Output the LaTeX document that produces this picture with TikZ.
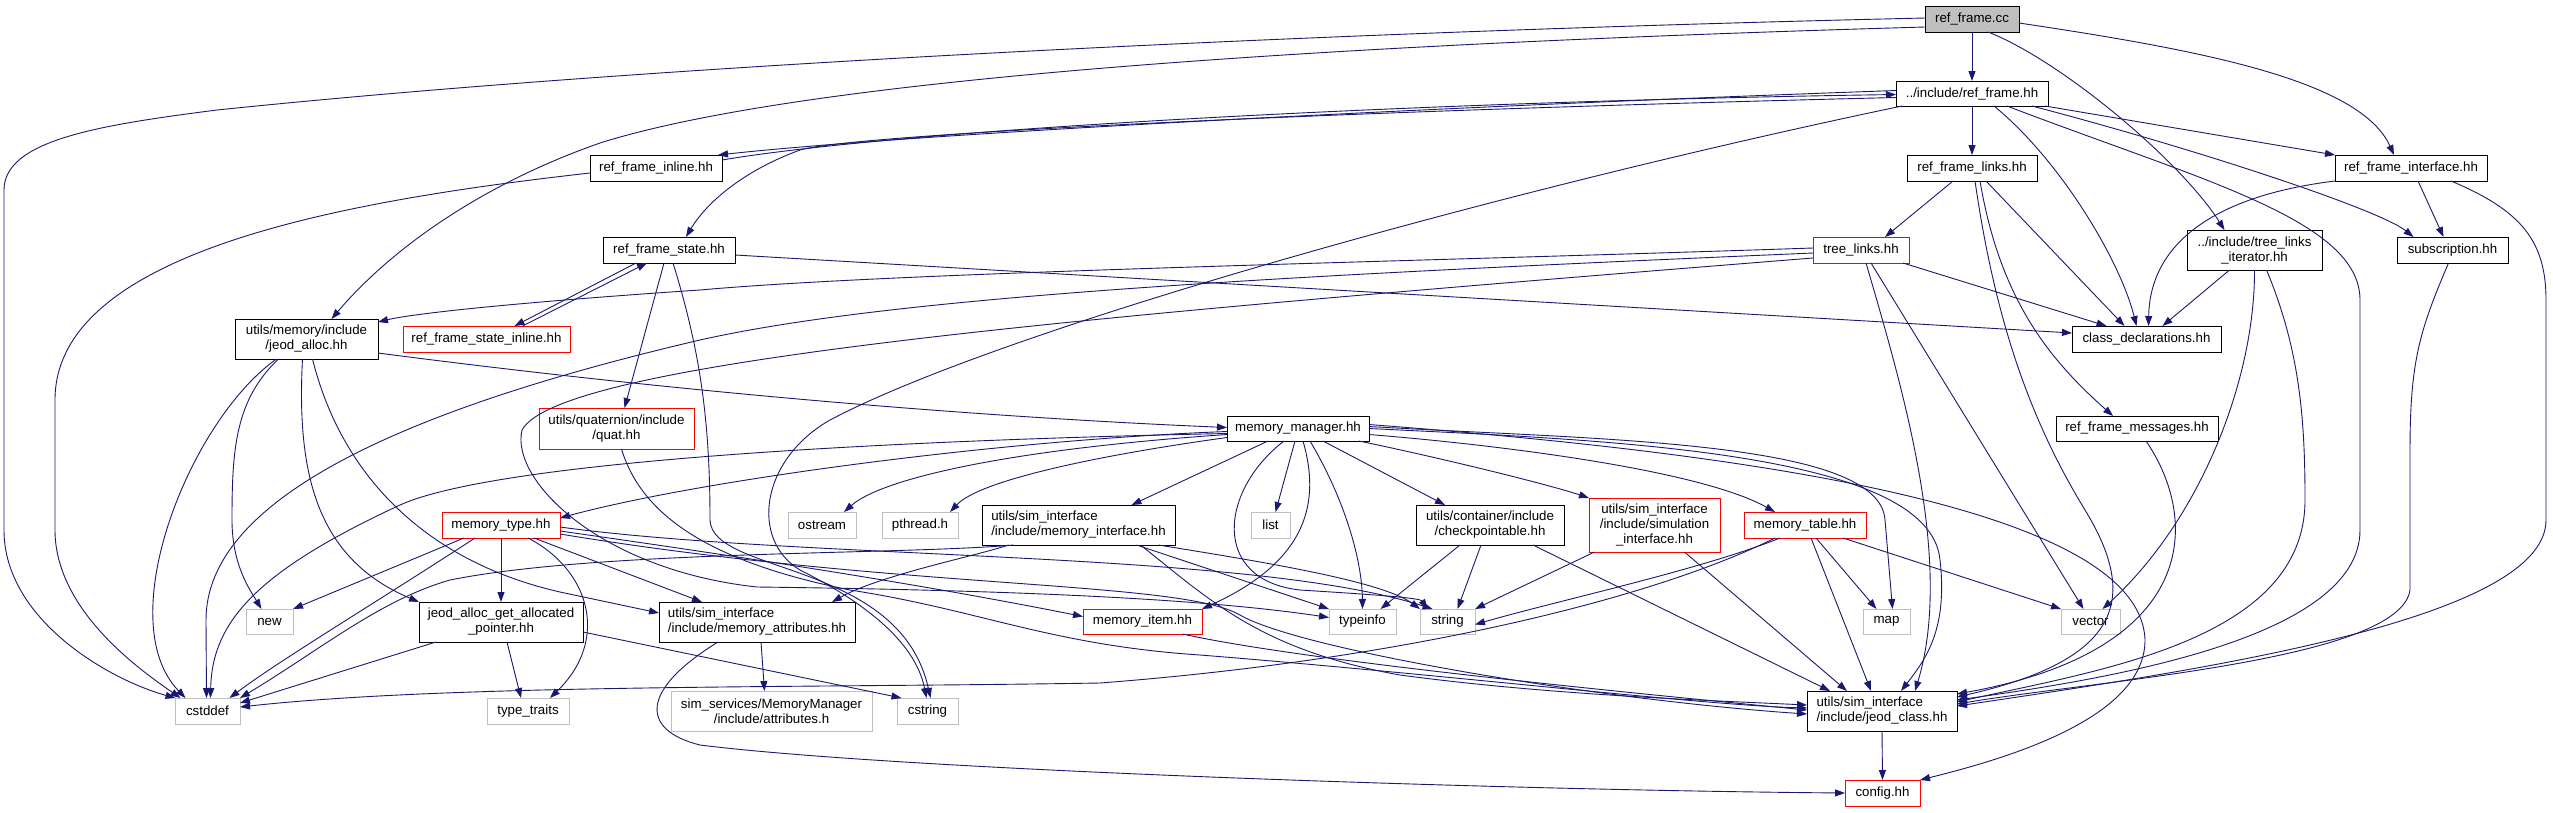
\documentclass[tikz,border=0pt]{standalone}
\usepackage{fontspec}
\setmainfont{Liberation Sans}
\usepackage{tikz}
\usetikzlibrary{arrows.meta}
\definecolor{edgeblue}{HTML}{191970}
\definecolor{sysgray}{HTML}{BFBFBF}
\definecolor{truncred}{HTML}{FF0000}

\begin{document}
\begin{tikzpicture}[x=1pt, y=-1pt,
    every node/.style={font=\fontsize{13.3}{15}\selectfont, inner sep=0pt, outer sep=0pt},
    sz/.style 2 args={minimum width=#1, minimum height=#2},
    hdr/.style={draw=black, line width=1pt, fill=white},
    sysh/.style={draw=sysgray, line width=1pt, fill=white},
    trunc/.style={draw=truncred, line width=1pt, fill=white},
    srcf/.style={draw=black, line width=1pt, fill=sysgray},
    dep/.style={draw=edgeblue, line width=0.9pt, -{Triangle[length=10pt,width=7pt]}}]
    \fill[white] (0,0) rectangle (2553,812);
    \useasboundingbox (0,0) rectangle (2553,812);

    \node[srcf, sz={94}{26}] (rfcc) at (1972,19) {ref\_frame.cc};
    \node[hdr, sz={152}{25}] (rfhh) at (1972,93.5) {../include/ref\_frame.hh};
    \node[hdr, sz={132}{26}] (rfinl) at (656,168) {ref\_frame\_inline.hh};
    \node[hdr, sz={132}{26}] (rfstate) at (669,250) {ref\_frame\_state.hh};
    \node[hdr, sz={130}{26}] (rflinks) at (1972,168) {ref\_frame\_links.hh};
    \node[hdr, sz={152}{26}] (rfiface) at (2411,168) {ref\_frame\_interface.hh};
    \node[trunc, sz={96}{26}] (treelinks) at (1861,250) {tree\_links.hh};
    \node[hdr, sz={135}{40}, align=center] (tliter) at (2254.5,250) {../include/tree\_links\\\_iterator.hh};
    \node[hdr, sz={111}{26}] (subscr) at (2452.5,250) {subscription.hh};
    \node[hdr, sz={143}{40}, align=center] (jalloc) at (306.5,339) {utils/memory/include\\/jeod\_alloc.hh};
    \node[trunc, sz={167}{26}] (rfsinl) at (486.5,339) {ref\_frame\_state\_inline.hh};
    \node[hdr, sz={149}{26}] (classdecl) at (2146.5,339) {class\_declarations.hh};
    \node[trunc, sz={155}{41}, align=center] (quat) at (616.5,428.5) {utils/quaternion/include\\/quat.hh};
    \node[hdr, sz={142}{25}] (memmgr) at (1298,428.5) {memory\_manager.hh};
    \node[hdr, sz={162}{25}] (rfmsg) at (2137,428.5) {ref\_frame\_messages.hh};
    \node[trunc, sz={118}{26}] (memtype) at (501,525) {memory\_type.hh};
    \node[sysh, sz={68}{26}] (ostream) at (822,525) {ostream};
    \node[sysh, sz={76}{26}] (pthread) at (920,525) {pthread.h};
    \node[hdr, sz={193}{40}, align=left] (memiface) at (1078.5,525) {utils/sim\_interface\\/include/memory\_interface.hh};
    \node[sysh, sz={39}{26}] (list) at (1270.5,525) {list};
    \node[hdr, sz={148}{40}, align=center] (ckpt) at (1490,525) {utils/container/include\\/checkpointable.hh};
    \node[trunc, sz={131}{54}, align=center] (siminterface) at (1654.5,525) {utils/sim\_interface\\/include/simulation\\\_interface.hh};
    \node[trunc, sz={122}{26}] (memtable) at (1805,525) {memory\_table.hh};
    \node[sysh, sz={47}{25}] (new) at (269.5,621.5) {new};
    \node[hdr, sz={164}{40}, align=center] (jagap) at (501,622) {jeod\_alloc\_get\_allocated\\\_pointer.hh};
    \node[hdr, sz={196}{40}, align=left] (memattr) at (757,622) {utils/sim\_interface\\/include/memory\_attributes.hh};
    \node[trunc, sz={119}{25}] (memitem) at (1142.5,621.5) {memory\_item.hh};
    \node[sysh, sz={67}{25}] (typeinfo) at (1362.5,621.5) {typeinfo};
    \node[sysh, sz={55}{25}] (string) at (1447.5,621.5) {string};
    \node[sysh, sz={47}{25}] (map) at (1886.5,621.5) {map};
    \node[sysh, sz={59}{25}] (vector) at (2090.5,621.5) {vector};
    \node[sysh, sz={65}{26}] (cstddef) at (207.5,711) {cstddef};
    \node[sysh, sz={82}{26}] (typetraits) at (528,711) {type\_traits};
    \node[sysh, sz={201}{40}, align=center] (attrh) at (771.5,711) {sim\_services/MemoryManager\\/include/attributes.h};
    \node[sysh, sz={61}{26}] (cstring) at (927.5,711) {cstring};
    \node[hdr, sz={150}{40}, align=left] (jeodclass) at (1882,711) {utils/sim\_interface\\/include/jeod\_class.hh};
    \node[trunc, sz={75}{26}] (config) at (1882.5,793) {config.hh};

    \draw[dep] (rfcc.south) -- (rfhh.north);
    \draw[dep] ([xshift=16pt]rfcc.south) .. controls (2060,60) and (2180,160) .. ([xshift=-30pt]tliter.north);
    \draw[dep] ([yshift=-4pt]rfcc.east) .. controls (2200,50) and (2360,80) .. ([xshift=-17pt]rfiface.north);
    \draw[dep] ([yshift=1pt]rfcc.west) .. controls (1400,30) and (700,60) .. (217,110) .. controls (100,125) and (4,140) .. (4,190) -- (4,530) .. controls (4,620) and (110,680) .. ([xshift=-32pt]cstddef.north);
    \draw[dep] ([yshift=-8pt]rfcc.west) .. controls (1300,45) and (800,80) .. (600,143) .. controls (480,185) and (390,250) .. ([xshift=25pt]jalloc.north);

    \draw[dep] (rfhh.south) -- (rflinks.north);
    \draw[dep] ([yshift=3pt]rfhh.west) .. controls (1400,108) and (900,135) .. ([xshift=-4pt]rfinl.north east);
    \draw[dep] ([yshift=8pt]rfinl.east) .. controls (900,130) and (1400,102) .. ([yshift=-1pt]rfhh.west);
    \draw[dep] ([yshift=-4pt]rfhh.west) .. controls (1300,112) and (850,135) .. (800,150) .. controls (740,172) and (705,205) .. ([xshift=17pt]rfstate.north);
    \draw[dep] ([xshift=22pt]rfhh.south) .. controls (2060,160) and (2120,260) .. ([xshift=-10pt]classdecl.north);
    \draw[dep] ([xshift=35pt]rfhh.south) .. controls (2200,180) and (2360,220) .. (2360,300) -- (2360,530) .. controls (2360,640) and (2100,680) .. ([yshift=11pt]jeodclass.east);
    \draw[dep] ([xshift=60pt]rfhh.south) .. controls (2200,150) and (2380,210) .. ([xshift=-39pt]subscr.north);
    \draw[dep] ([xshift=73pt]rfhh.south) -- (rfiface.north west);
    \draw[dep] ([xshift=-70pt]rfhh.south) .. controls (1500,190) and (1000,330) .. (830,420) .. controls (760,460) and (750,540) .. (800,570) .. controls (860,600) and (915,640) .. ([xshift=-1pt]cstring.north);

    \draw[dep] ([yshift=-5pt]rfinl.west) .. controls (350,200) and (55,250) .. (55,400) -- (55,530) .. controls (55,610) and (140,670) .. ([xshift=-27pt]cstddef.north);

    \draw[dep] ([xshift=-33pt]rfstate.south) -- ([xshift=28pt]rfsinl.north);
    \draw[dep] ([xshift=36pt]rfsinl.north) -- ([xshift=-22pt]rfstate.south);
    \draw[dep] ([yshift=-5pt]rfstate.east) -- ([yshift=6pt]classdecl.west);
    \draw[dep] ([xshift=-5pt]rfstate.south) -- ([xshift=8pt]quat.north);
    \draw[dep] ([xshift=4pt]rfstate.south) .. controls (700,350) and (710,420) .. (710,520) .. controls (712,575) and (900,560) .. ([xshift=3pt]cstring.north);

    \draw[dep] ([yshift=2pt]treelinks.west) .. controls (1400,262) and (900,272) .. (700,290) .. controls (550,300) and (420,312) .. ([yshift=-3pt]jalloc.north east);
    \draw[dep] ([yshift=-3pt]treelinks.west) .. controls (1300,275) and (900,295) .. (700,340) .. controls (400,410) and (206,500) .. (206,620) -- ([xshift=-1pt]cstddef.north);
    \draw[dep] ([yshift=-8pt]treelinks.west) .. controls (1100,315) and (560,360) .. (522,430) .. controls (510,480) and (600,570) .. (757,587) .. controls (1000,590) and (1200,598) .. ([yshift=4pt]typeinfo.west);
    \draw[dep] ([xshift=42pt]treelinks.south) -- ([xshift=-40pt]classdecl.north);
    \draw[dep] ([xshift=5pt]treelinks.south) .. controls (1900,380) and (1955,560) .. ([xshift=33pt]jeodclass.north);
    \draw[dep] ([xshift=10pt]treelinks.south) -- ([xshift=-7pt]vector.north);

    \draw[dep] ([xshift=-19pt]rflinks.south) -- ([xshift=24pt]treelinks.north);
    \draw[dep] ([xshift=14pt]rflinks.south) -- ([xshift=-22pt]classdecl.north);
    \draw[dep] ([xshift=3pt]rflinks.south) .. controls (1995,320) and (2030,420) .. (2085,510) .. controls (2140,600) and (2120,660) .. ([yshift=14pt]jeodclass.east);
    \draw[dep] ([xshift=8pt]rflinks.south) .. controls (2000,300) and (2050,360) .. ([xshift=-24pt]rfmsg.north);

    \draw[dep] (rfiface.south west) .. controls (2220,195) and (2150,240) .. ([xshift=2pt]classdecl.north);
    \draw[dep] ([xshift=7pt]rfiface.south) -- ([xshift=-9pt]subscr.north);
    \draw[dep] ([xshift=40pt]rfiface.south) .. controls (2520,210) and (2546,240) .. (2546,300) -- (2546,520) .. controls (2546,620) and (2200,670) .. ([yshift=5pt]jeodclass.east);
    \draw[dep] ([xshift=-4pt]subscr.south) .. controls (2420,330) and (2410,360) .. (2410,450) -- (2410,590) .. controls (2400,660) and (2100,680) .. ([yshift=7pt]jeodclass.east);

    \draw[dep] ([xshift=-25pt]tliter.south) -- ([xshift=16pt]classdecl.north);
    \draw[dep] (tliter.south) .. controls (2255,380) and (2200,520) .. ([xshift=12pt]vector.north);
    \draw[dep] ([xshift=12pt]tliter.south) .. controls (2300,350) and (2305,420) .. (2305,500) .. controls (2305,640) and (2100,670) .. ([yshift=9pt]jeodclass.east);

    \draw[dep] ([xshift=9pt]rfmsg.south) .. controls (2200,520) and (2200,650) .. ([yshift=17pt]jeodclass.east);
    \draw[dep] (jeodclass.south) -- (config.north);

    \draw[dep] ([xshift=-30pt]jalloc.south) .. controls (190,420) and (110,620) .. ([xshift=-22pt]cstddef.north);
    \draw[dep] ([xshift=-28pt]jalloc.south) .. controls (235,400) and (232,450) .. (232,520) .. controls (232,565) and (250,590) .. ([xshift=-8pt]new.north);
    \draw[dep] ([xshift=-4pt]jalloc.south) .. controls (296,480) and (320,560) .. (jagap.north west);
    \draw[dep] ([xshift=6pt]jalloc.south) .. controls (340,470) and (420,560) .. (560,592) -- ([yshift=9pt]memattr.west);
    \draw[dep] ([yshift=-14pt]jalloc.east) .. controls (700,395) and (1000,418) .. ([yshift=1pt]memmgr.west);

    \draw[dep] ([yshift=-3pt]memmgr.west) .. controls (1000,440) and (700,480) .. ([yshift=7pt]memtype.east);
    \draw[dep] ([yshift=-6pt]memmgr.west) .. controls (1000,450) and (880,480) .. ([xshift=22pt]ostream.north);
    \draw[dep] ([yshift=-5pt]memmgr.west) .. controls (900,440) and (500,460) .. (400,505) .. controls (260,570) and (212,620) .. ([xshift=3pt]cstddef.north);
    \draw[dep] ([yshift=-9pt]memmgr.west) .. controls (1100,455) and (980,480) .. ([xshift=30pt]pthread.north);
    \draw[dep] ([xshift=-30pt]memmgr.south) -- ([xshift=53pt]memiface.north);
    \draw[dep] ([xshift=-14pt]memmgr.south) .. controls (1220,490) and (1210,580) .. (1300,590) .. controls (1380,595) and (1420,598) .. ([xshift=-20pt]string.north);
    \draw[dep] ([xshift=-3pt]memmgr.south) -- ([xshift=5pt]list.north);
    \draw[dep] ([xshift=5pt]memmgr.south) .. controls (1320,500) and (1310,560) .. (memitem.north east);
    \draw[dep] ([xshift=12pt]memmgr.south) .. controls (1345,500) and (1362,560) .. (typeinfo.north);
    \draw[dep] ([xshift=25pt]memmgr.south) -- ([xshift=-45pt]ckpt.north);
    \draw[dep] ([xshift=-10pt]memmgr.south east) .. controls (1450,460) and (1550,485) .. (siminterface.north west);
    \draw[dep] ([yshift=-6pt]memmgr.east) .. controls (1500,445) and (1700,470) .. ([xshift=-30pt]memtable.north);
    \draw[dep] ([yshift=2pt]memmgr.east) .. controls (1600,440) and (1880,440) .. (1885,520) -- ([xshift=6pt]map.north);
    \draw[dep] (memmgr.east) .. controls (1600,440) and (1930,450) .. (1940,560) .. controls (1948,630) and (1925,660) .. ([xshift=19pt]jeodclass.north);
    \draw[dep] ([yshift=4pt]memmgr.east) .. controls (1700,450) and (2140,500) .. (2145,640) .. controls (2145,720) and (2000,760) .. (config.north east);

    \draw[dep] ([xshift=-65pt]memiface.south) .. controls (900,555) and (600,550) .. (450,580) .. controls (380,600) and (320,650) .. (cstddef.north east);
    \draw[dep] ([xshift=-70pt]memiface.south) .. controls (980,555) and (880,575) .. ([xshift=75pt]memattr.north);
    \draw[dep] ([xshift=58pt]memiface.south) -- (typeinfo.north west);
    \draw[dep] ([xshift=80pt]memiface.south) .. controls (1250,560) and (1380,580) .. (string.north west);
    \draw[dep] ([xshift=62pt]memiface.south) .. controls (1210,600) and (1260,650) .. (1400,675) .. controls (1550,695) and (1700,700) .. ([yshift=6pt]jeodclass.west);

    \draw[dep] ([xshift=-30pt]ckpt.south) -- ([xshift=18pt]typeinfo.north);
    \draw[dep] ([xshift=-9pt]ckpt.south) -- ([xshift=10pt]string.north);
    \draw[dep] ([xshift=43pt]ckpt.south) -- ([xshift=-52pt]jeodclass.north);
    \draw[dep] ([xshift=-60pt]siminterface.south) -- (string.north east);
    \draw[dep] ([xshift=30pt]siminterface.south) -- ([xshift=-35pt]jeodclass.north);

    \draw[dep] ([xshift=-25pt]memtable.south) .. controls (1700,570) and (1560,600) .. ([yshift=-3pt]string.east);
    \draw[dep] ([xshift=-30pt]memtable.south) .. controls (1650,600) and (1400,660) .. (1100,683) .. controls (800,688) and (450,684) .. ([yshift=4pt]cstddef.east);
    \draw[dep] ([xshift=11pt]memtable.south) -- ([xshift=-10pt]map.north);
    \draw[dep] ([xshift=38pt]memtable.south) -- (vector.north west);
    \draw[dep] ([xshift=6pt]memtable.south) -- ([xshift=-11pt]jeodclass.north);

    \draw[dep] ([xshift=-37pt]memtype.south) -- (new.north east);
    \draw[dep] ([xshift=-26pt]memtype.south) .. controls (380,600) and (280,660) .. ([xshift=22pt]cstddef.north);
    \draw[dep] (memtype.south) -- (jagap.north);
    \draw[dep] ([xshift=27pt]memtype.south) .. controls (590,570) and (610,640) .. ([xshift=22pt]typetraits.north);
    \draw[dep] ([xshift=33pt]memtype.south) -- ([xshift=-55pt]memattr.north);
    \draw[dep] ([yshift=-6pt]memtype.east) .. controls (800,565) and (950,590) .. ([yshift=5pt]memitem.west);
    \draw[dep] ([yshift=-2pt]memtype.east) .. controls (800,560) and (1250,550) .. ([xshift=-15pt]string.north);
    \draw[dep] ([yshift=-9pt]memtype.east) .. controls (900,590) and (1180,580) .. (1240,615) .. controls (1300,650) and (1600,700) .. ([yshift=-3pt]jeodclass.west);

    \draw[dep] ([xshift=-65pt]jagap.south) -- ([yshift=8pt]cstddef.east);
    \draw[dep] ([xshift=6pt]jagap.south) -- ([xshift=-7pt]typetraits.north);
    \draw[dep] ([yshift=-10pt]jagap.east) -- ([xshift=-26pt]cstring.north);
    \draw[dep] ([xshift=4pt]memattr.south) -- ([xshift=-7pt]attrh.north);
    \draw[dep] ([xshift=-39pt]memattr.south) .. controls (640,690) and (640,730) .. (700,745) .. controls (900,770) and (1500,790) .. (config.west);
    \draw[dep] ([xshift=40pt]memitem.south) .. controls (1300,660) and (1600,690) .. ([yshift=1pt]jeodclass.west);
    \draw[dep] ([xshift=5pt]quat.south) .. controls (640,510) and (700,560) .. (850,590) .. controls (980,610) and (1050,645) .. (1200,655) .. controls (1450,675) and (1700,705) .. ([yshift=3pt]jeodclass.west);
\end{tikzpicture}
\end{document}
